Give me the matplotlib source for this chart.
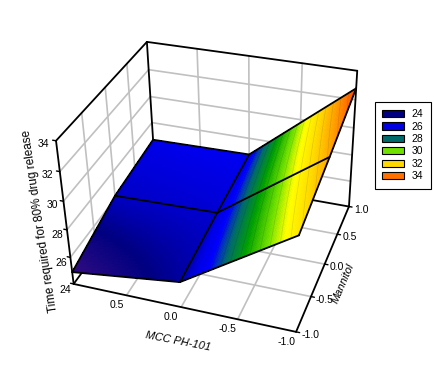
import numpy as np
import matplotlib
matplotlib.use('Agg')
import matplotlib.pyplot as plt
from matplotlib.colors import LinearSegmentedColormap
from matplotlib.patches import Patch

plt.rcParams['font.family'] = ['Liberation Sans', 'DejaVu Sans']

W, H = 434, 379
mcc = [1.0, 0.0, -1.0]
mannitol = [-1.0, 0.0, 1.0]
# rows: mannitol, columns: mcc
time_80 = [[24.9, 25.85, 30.7],
           [26.2, 26.35, 31.7],
           [26.65, 26.75, 32.8]]
x_ticks = [1.0, 0.5, 0.0, -0.5, -1.0]
y_ticks = [-1.0, -0.5, 0.0, 0.5, 1.0]
z_ticks = [24, 26, 28, 30, 32, 34]
legend_levels = ['24', '26', '28', '30', '32', '34']
legend_colors = ['#000080', '#0000e0', '#006a6a', '#70e000', '#ffd800', '#ff7000']
cmap_z = [24, 25, 25.6, 26, 26.4, 26.7, 27.1, 27.5, 27.8, 28.6, 29.5, 30.2, 31, 31.8, 32.4, 33, 35]
cmap_c = ['#300070', '#2a0a80', '#000080', '#0000b0', '#0000d8', '#0000f0', '#0000ff', '#0040a8',
          '#006a6a', '#00a000', '#70e000', '#ffff00', '#ffd800', '#ffa000', '#ff7000', '#ff3000', '#ff0000']

fig = plt.figure(figsize=(W / 100, H / 100), dpi=100)
ax = fig.add_axes([0.0906, 0.0668, 0.7940, 0.9092], projection='3d', computed_zorder=False)
ax.set_xlim(1, -1); ax.set_ylim(-1, 1); ax.set_zlim(24, 34)
ax.set_axis_off()
ax.view_init(elev=33.092, azim=-69.909, roll=1.396)
ax.set_proj_type('persp', focal_length=0.552)
ax.set_box_aspect((1.068, 1, 0.775))
ax.apply_aspect()

def px(x, y, z):
    q = ax.get_proj() @ np.array([x, y, z, 1.0])
    pt = ax.transData.transform(q[:2] / q[3])
    return np.array([pt[0], H - pt[1]])

def line(xs, ys, zs, color='black', lw=1.3, z=2):
    ax.plot(xs, ys, zs, color=color, lw=lw, zorder=z, solid_capstyle='round')

GR = '#c0c0c0'
for v in x_ticks[1:-1]:
    line([v, v], [-1, 1], [24, 24], GR, 1.2, 1)
    line([v, v], [1, 1], [24, 34], GR, 1.2, 1)
for v in y_ticks[1:-1]:
    line([-1, 1], [v, v], [24, 24], GR, 1.2, 1)
    line([1, 1], [v, v], [24, 34], GR, 1.2, 1)
for v in z_ticks[1:-1]:
    line([1, 1], [-1, 1], [v, v], GR, 1.2, 1)
    line([1, -1], [1, 1], [v, v], GR, 1.2, 1)

line([1, -1], [-1, -1], [24, 24])
line([-1, -1], [-1, 1], [24, 24])
line([-1, 1], [1, 1], [24, 24])
line([1, 1], [1, -1], [24, 24])
line([1, 1], [-1, -1], [24, 34])
line([1, 1], [1, 1], [24, 34])
line([-1, -1], [1, 1], [24, 34])
line([1, 1], [-1, 1], [34, 34])
line([1, -1], [1, 1], [34, 34])

cmap = LinearSegmentedColormap.from_list('rs', [((v - 24) / 11, c) for v, c in zip(cmap_z, cmap_c)], N=512)
xf = np.linspace(1, -1, 121); yf = np.linspace(-1, 1, 61)
Z0 = np.array(time_80)
Zc = np.array([np.interp(xf[::-1], mcc[::-1], r[::-1])[::-1] for r in Z0])
Zf = np.array([np.interp(yf, mannitol, Zc[:, j]) for j in range(len(xf))]).T
X, Y = np.meshgrid(xf, yf)
Zm = (Zf[:-1, :-1] + Zf[1:, 1:] + Zf[:-1, 1:] + Zf[1:, :-1]) / 4
ax.plot_surface(X, Y, Zf, facecolors=cmap((Zm - 24) / 11), rstride=1, cstride=1, shade=False,
                linewidth=0, antialiased=False, zorder=3)
levels = np.arange(26.8, 33, 0.4)
dark = [tuple(0.86 * c for c in cmap((v - 24) / 11)[:3]) for v in levels]
ax.contour(X, Y, Zf, levels=levels, colors=dark, linewidths=0.4, zorder=3.5)
for j, xv in enumerate(mcc):
    line([xv] * 3, mannitol, Z0[:, j], 'black', 1.3, 4)
for i, yv in enumerate(mannitol):
    line(mcc, [yv] * 3, Z0[i, :], 'black', 1.3, 4)

def label(x, y, z, dx, dy, s, ha='center'):
    q = px(x, y, z)
    fig.text((q[0] + dx) / W, 1 - (q[1] + dy) / H, s, ha=ha, va='center', fontsize=7.5)

for v in z_ticks:
    label(1, -1, v, -8 - 0.5 * (v - 24), 6 - 0.3 * (v - 24), str(v))
    line([1, 1.03], [-1, -1], [v, v], 'black', 1, 2)
for v in x_ticks[1:]:
    label(v, -1, 24, -10, 10, f'{v:.1f}')
for v in y_ticks:
    label(-1, v, 24, 5, 3, f'{v:.1f}', ha='left')
    line([-1, -1.03], [v, v], [24, 24], 'black', 1, 2)

fig.text(178 / W, 1 - 341 / H, 'MCC PH-101', rotation=-11, style='italic', fontsize=8, ha='center', va='center')
fig.text(343 / W, 1 - 283 / H, 'Mannitol', rotation=67, style='italic', fontsize=8, ha='center', va='center')
fig.text(40 / W, 1 - 221 / H, 'Time required for 80% drug release', rotation=98.6, fontsize=8.5, ha='center', va='center')

handles = [Patch(facecolor=c, edgecolor='black', linewidth=0.8, label=l) for c, l in zip(legend_colors, legend_levels)]
fig.legend(handles=handles, loc='upper left', bbox_to_anchor=(375 / W, 1 - 102 / H), borderaxespad=0,
           fancybox=False, edgecolor='black', framealpha=1, fontsize=7.5, handlelength=2.1, handleheight=0.7,
           labelspacing=0.23, borderpad=0.7, handletextpad=0.7).get_frame().set_linewidth(0.8)

fig.savefig('out.png', dpi=100)
